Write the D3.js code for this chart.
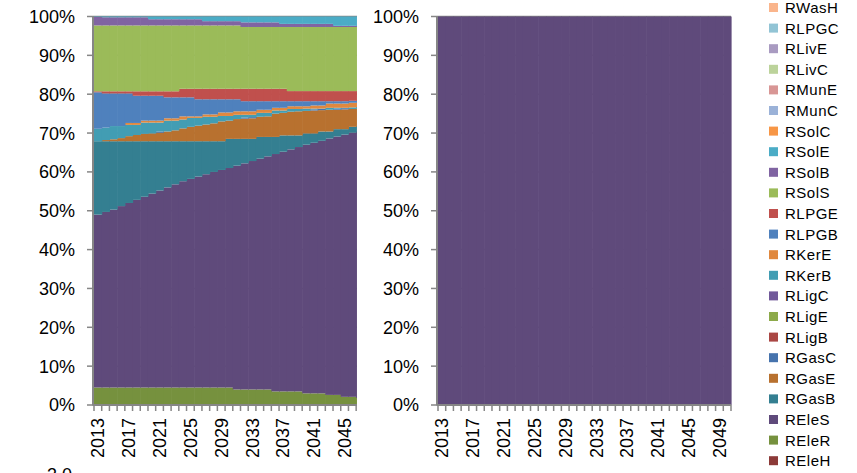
<!DOCTYPE html>
<html><head><meta charset="utf-8">
<script src="https://cdn.jsdelivr.net/npm/d3@7/dist/d3.min.js"></script>
<style>body{margin:0;background:#fff}svg{display:block;font-family:"Liberation Sans",Arial,sans-serif}</style>
</head><body><svg id="c" width="857" height="473"></svg>
<script>
// ---------- DATA ----------
const years = [2013,2014,2015,2016,2017,2018,2019,2020,2021,2022,2023,2024,2025,2026,2027,2028,2029,2030,2031,2032,2033,2034,2035,2036,2037,2038,2039,2040,2041,2042,2043,2044,2045,2046,2047,2048,2049,2050];
const xTickLabels = [2013,2017,2021,2025,2029,2033,2037,2041,2045,2049];
const yTicks = [0,0.1,0.2,0.3,0.4,0.5,0.6,0.7,0.8,0.9,1];
const yTickLabels = ["0%","10%","20%","30%","40%","50%","60%","70%","80%","90%","100%"];

// stacking order, bottom to top
const seriesNames = ["REleH","REleR","REleS","RGasB","RGasE","RGasC","RLigB","RLigE","RLigC","RKerB","RKerE","RLPGB","RLPGE","RSolS","RSolB","RSolE","RSolC","RMunC","RMunE","RLivC","RLivE","RLPGC","RWasH"];
const seriesColors = ["#8C3A38","#76913E","#5F4A7B","#347F91","#B8712F","#4673AD","#AA4744","#8DAA4A","#71599A","#429DB3","#E0883E","#4F81BD","#C0504D","#9BBB59","#8064A2","#4BACC6","#F79646","#9BB2D8","#D89695","#BCD39B","#A99BC1","#92C4D5","#FAB58C"];

// left chart (shares, %)
const REleH = [0,0,0,0,0,0,0,0,0,0,0,0,0,0,0,0,0,0,0,0,0,0,0,0,0,0,0,0,0,0,0,0,0,0,0,0,0,0];
const REleR = [4.5,4.5,4.5,4.5,4.5,4.5,4.5,4.5,4.5,4.5,4.5,4.5,4.5,4.5,4.5,4.5,4.5,4.5,4.0,4.0,4.0,4.0,4.0,3.5,3.5,3.5,3.5,3.0,3.0,3.0,2.6,2.6,2.1,2.1,1.8,1.8,1.8,1.8];
const REleS = [44.5,45.2,45.8,46.7,47.5,48.3,49.1,49.9,50.7,51.5,52.3,53.1,53.7,54.3,54.9,55.5,56.0,56.5,57.6,58.2,58.8,59.4,60.0,61.1,61.7,62.3,62.9,64.0,64.5,65.0,66.0,66.5,67.5,68.0,68.8,69.3,69.8,70.3];
const RGasB = [18.9,18.2,17.6,16.7,15.9,15.1,14.3,13.5,12.7,11.9,11.1,10.3,9.7,9.1,8.5,7.9,7.4,7.5,6.9,6.3,5.7,5.6,5.0,4.4,4.2,3.6,3.0,2.9,2.4,2.4,1.8,1.9,1.4,1.5,1.4,1.3,1.2,1.1];
const RGasE = [0,0.3,0.5,0.8,1.3,1.6,1.9,2.0,2.2,2.5,2.8,3.3,3.7,4.0,4.3,4.6,5.1,4.7,5.1,5.2,5.3,5.2,5.3,6.0,5.8,6.1,6.2,5.8,5.9,5.5,5.6,5.0,5.1,4.6,4.3,4.0,3.7,3.4];
const RGasC = [0,0,0,0,0,0,0,0,0.3,0,0,0,0,0,0,0,0,0,0,0.3,0.3,0,0,0,0,0,0,0,0.3,0.3,0,0.3,0.3,0,0,0,0,0];
const RLigB = [0,0,0,0,0,0,0,0,0,0,0,0,0,0,0,0,0,0,0,0,0,0,0,0,0,0,0,0,0,0,0,0,0,0,0,0,0,0];
const RLigE = [0,0,0,0,0,0,0,0,0,0,0,0,0,0,0,0,0,0,0,0,0,0,0,0,0,0,0,0,0,0,0,0,0,0,0,0,0,0];
const RLigC = [0,0,0,0,0,0,0,0,0,0,0,0,0,0,0,0,0,0,0,0,0,0,0,0,0,0,0,0,0,0,0,0,0,0,0,0,0,0];
const RKerB = [3.2,3.2,3.4,3.1,2.9,2.6,2.9,2.8,2.3,2.8,2.5,2.3,2.3,2.0,2.0,1.7,1.4,1.2,1.1,0.7,0.6,1.0,0.9,0.8,0.6,0.7,0.6,0.6,0.2,0.1,0.5,0.2,0.1,0.4,0.4,0.4,0.4,0.4];
const RKerE = [0,0,0,0,0.5,0.5,0.5,0.5,0.5,0.6,0.6,0.8,0.4,0.4,0.6,0.6,0.9,0.9,0.9,0.9,0.9,0.8,0.8,0.7,0.7,0.7,0.7,0.6,0.8,0.8,1.1,1.1,1.1,1.2,1.2,1.2,1.1,1.1];
const RLPGB = [9.4,8.8,8.4,8.4,7.6,7.0,6.4,6.4,6.4,5.4,5.4,4.9,4.9,4.4,3.9,3.9,3.4,3.4,3.1,2.6,2.6,2.2,2.2,1.7,1.7,1.3,1.3,1.3,1.1,1.1,0.6,0.6,0.6,0.5,0.4,0.3,0.3,0.2];
const RLPGE = [0.25,0.55,0.55,0.55,0.55,1.15,1.15,1.15,1.15,1.55,1.55,2.2,2.2,2.7,2.7,2.7,2.7,2.7,2.7,3.2,3.2,3.2,3.2,3.2,3.2,2.6,2.6,2.6,2.6,2.6,2.6,2.6,2.6,2.5,2.5,2.5,2.5,2.5];
const RSolS = [16.95,16.95,16.95,16.95,16.95,16.95,16.95,16.95,16.95,16.95,16.95,16.3,16.3,16.3,16.3,16.3,16.3,16.3,16.3,15.9,15.9,15.9,15.9,15.9,15.9,16.5,16.5,16.5,16.5,16.5,16.5,16.5,16.5,16.5,16.5,16.5,16.5,16.5];
const RSolB = [2.2,2.1,2.1,2.1,2.1,2.1,2.1,1.6,1.6,1.6,1.6,1.6,1.6,1.6,1.1,1.1,1.1,1.1,1.1,1.2,1.2,1.2,1.2,1.2,0.8,0.8,0.8,0.8,0.8,0.8,0.8,0.3,0.3,0.3,0.3,0.3,0.3,0.3];
const RSolE = [0.1,0.2,0.2,0.2,0.2,0.2,0.2,0.7,0.7,0.7,0.7,0.7,0.7,0.7,1.2,1.2,1.2,1.2,1.2,1.5,1.5,1.5,1.5,1.5,1.9,1.9,1.9,1.9,1.9,1.9,1.9,2.4,2.4,2.4,2.4,2.4,2.4,2.4];
const RSolC = [0,0,0,0,0,0,0,0,0,0,0,0,0,0,0,0,0,0,0,0,0,0,0,0,0,0,0,0,0,0,0,0,0,0,0,0,0,0];
const RMunC = [0,0,0,0,0,0,0,0,0,0,0,0,0,0,0,0,0,0,0,0,0,0,0,0,0,0,0,0,0,0,0,0,0,0,0,0,0,0];
const RMunE = [0,0,0,0,0,0,0,0,0,0,0,0,0,0,0,0,0,0,0,0,0,0,0,0,0,0,0,0,0,0,0,0,0,0,0,0,0,0];
const RLivC = [0,0,0,0,0,0,0,0,0,0,0,0,0,0,0,0,0,0,0,0,0,0,0,0,0,0,0,0,0,0,0,0,0,0,0,0,0,0];
const RLivE = [0,0,0,0,0,0,0,0,0,0,0,0,0,0,0,0,0,0,0,0,0,0,0,0,0,0,0,0,0,0,0,0,0,0,0,0,0,0];
const RLPGC = [0,0,0,0,0,0,0,0,0,0,0,0,0,0,0,0,0,0,0,0,0,0,0,0,0,0,0,0,0,0,0,0,0,0,0,0,0,0];
const RWasH = [0,0,0,0,0,0,0,0,0,0,0,0,0,0,0,0,0,0,0,0,0,0,0,0,0,0,0,0,0,0,0,0,0,0,0,0,0,0];

// right chart: everything REleS
const rightREleS = [100,100,100,100,100,100,100,100,100,100,100,100,100,100,100,100,100,100,100,100,100,100,100,100,100,100,100,100,100,100,100,100,100,100,100,100,100,100];

const leftSeries = {REleH,REleR,REleS,RGasB,RGasE,RGasC,RLigB,RLigE,RLigC,RKerB,RKerE,RLPGB,RLPGE,RSolS,RSolB,RSolE,RSolC,RMunC,RMunE,RLivC,RLivE,RLPGC,RWasH};

// ---------- BUILD ----------
const leftRows = years.map((yr,i)=>{const r={year:yr}; seriesNames.forEach(n=>r[n]=leftSeries[n][i]); return r;});
const rightRows = years.map((yr,i)=>{const r={year:yr}; seriesNames.forEach(n=>r[n]=0); r.REleS=rightREleS[i]; return r;});
const color = d3.scaleOrdinal().domain(seriesNames).range(seriesColors);
const stack = d3.stack().keys(seriesNames).offset(d3.stackOffsetExpand);

const svg = d3.select("#c");
const axisColor = "#868686";
const y = d3.scaleLinear().domain([0,1]).range([405,16.5]);

const defs = svg.append("defs");
defs.append("clipPath").attr("id","leftClip").append("rect").attr("x",0).attr("y",0).attr("width",357).attr("height",473);

function drawChart(g, rows, axisX, bandEnd){
  const x = d3.scaleBand().domain(years).range([axisX+1, bandEnd]).paddingInner(0).paddingOuter(0);
  // gridlines (behind bars)
  g.append("g").selectAll("line").data(yTicks).join("line")
    .attr("x1",axisX).attr("x2",bandEnd).attr("y1",d=>y(d)).attr("y2",d=>y(d))
    .attr("stroke",axisColor).attr("stroke-width",1.5);
  // bars
  const layers = stack(rows);
  g.append("g").selectAll("g").data(layers).join("g").attr("fill",d=>color(d.key))
    .selectAll("rect").data(d=>d).join("rect")
      .attr("x",d=>x(d.data.year)).attr("width",x.bandwidth()+0.6)
      .attr("y",d=>y(d[1])).attr("height",d=>Math.max(0,y(d[0])-y(d[1])));
  // y axis
  g.append("line").attr("x1",axisX).attr("x2",axisX).attr("y1",y(1)-0.5).attr("y2",y(0)+0.5)
    .attr("stroke",axisColor).attr("stroke-width",2);
  g.append("g").selectAll("line").data(yTicks).join("line")
    .attr("x1",axisX-6).attr("x2",axisX).attr("y1",d=>y(d)).attr("y2",d=>y(d))
    .attr("stroke",axisColor).attr("stroke-width",1.5);
  g.append("g").selectAll("text").data(yTicks).join("text")
    .attr("x",axisX-18).attr("y",d=>y(d)).attr("dy","0.36em").attr("text-anchor","end")
    .attr("font-size",18).attr("fill","#000").text((d,i)=>yTickLabels[i]);
  // x axis
  g.append("line").attr("x1",axisX).attr("x2",bandEnd).attr("y1",y(0)).attr("y2",y(0))
    .attr("stroke",axisColor).attr("stroke-width",2);
  const bounds = years.map(yr=>x(yr)).concat([bandEnd]);
  g.append("g").selectAll("line").data(bounds).join("line")
    .attr("x1",d=>d).attr("x2",d=>d).attr("y1",y(0)).attr("y2",y(0)+6)
    .attr("stroke",axisColor).attr("stroke-width",1.5);
  g.append("g").selectAll("text").data(xTickLabels).join("text")
    .attr("transform",d=>`translate(${x(d)+x.bandwidth()/2},${y(0)+13}) rotate(-90)`)
    .attr("dy","0.36em").attr("text-anchor","end").attr("font-size",18).attr("fill","#000")
    .text(d=>d);
}

const gLeft = svg.append("g").attr("clip-path","url(#leftClip)");
drawChart(gLeft, leftRows, 93, 387);
const gRight = svg.append("g");
drawChart(gRight, rightRows, 437, 731);

// legend (top to bottom = reverse of stacking order)
const legendNames = seriesNames.slice().reverse();
const lg = svg.append("g").selectAll("g").data(legendNames).join("g")
  .attr("transform",(d,i)=>`translate(769,${7.5+i*20.6})`);
lg.append("rect").attr("x",0).attr("y",-4.5).attr("width",9).attr("height",9).attr("fill",d=>color(d));
lg.append("text").attr("x",16).attr("y",0).attr("dy","0.36em").attr("font-size",15)
  .attr("letter-spacing","0.5").attr("fill","#000").text(d=>d);

// partially visible label at bottom-left
svg.append("text").attr("x",47).attr("y",481).attr("font-size",18).attr("fill","#000").text("3.0");
</script></body></html>
